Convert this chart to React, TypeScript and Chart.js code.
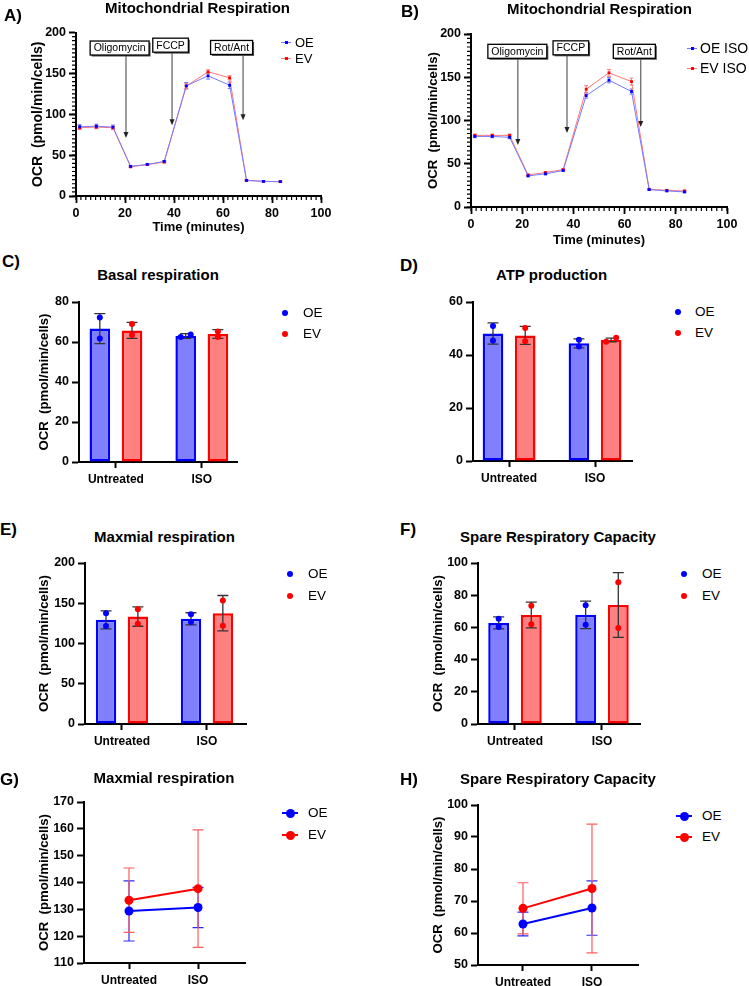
import React, { useEffect, useRef } from 'react';
import { Chart, registerables } from 'chart.js';
Chart.register(...registerables);

const FONT = '"Liberation Sans", Arial, Helvetica, sans-serif';
Chart.defaults.font.family = FONT;
Chart.defaults.color = '#000';

const BLUE = '#0000ff';
const RED = '#ff0000';
const BLUE_FILL = '#8080ff';
const RED_FILL = '#ff8080';
const BLUE_LINE = '#7878ff';
const RED_LINE = '#ff7878';
const BLUE_ERR = '#2a2aff';
const RED_ERR = '#ff5e5e';

// ---------- Panels A / B : Seahorse time course ----------
const TIME_POINTS = [1.5, 8.3, 15.1, 22.3, 29.1, 36.0, 45.0, 53.9, 62.7, 69.6, 76.5, 83.4];
const OE_UNTREATED_OCR = [84.7, 85.3, 84.3, 36.3, 38.6, 42.3, 134.8, 147.0, 135.5, 19.1, 17.9, 17.5];
const OE_UNTREATED_SD = [2.5, 2.5, 2.5, 1.0, 1.0, 1.0, 4.0, 4.0, 4.0, 0.8, 0.8, 0.8];
const EV_UNTREATED_OCR = [83.5, 84.3, 83.5, 35.8, 38.3, 41.5, 134.4, 151.9, 144.6, 19.1, 17.9, 17.5];
const EV_UNTREATED_SD = [2.0, 2.0, 2.0, 1.0, 1.0, 1.0, 3.0, 2.5, 2.5, 0.8, 0.8, 0.8];
const OE_ISO_OCR = [81.6, 81.6, 80.5, 36.0, 38.3, 42.2, 128.8, 146.6, 133.5, 20.1, 18.6, 17.4];
const OE_ISO_SD = [1.5, 1.5, 1.5, 1.0, 1.0, 1.0, 3.0, 3.0, 3.0, 0.8, 0.8, 0.8];
const EV_ISO_OCR = [82.8, 82.8, 82.8, 37.1, 39.8, 43.3, 136.2, 155.1, 145.0, 20.5, 19.3, 18.6];
const EV_ISO_SD = [1.5, 1.5, 1.5, 1.0, 1.0, 1.0, 4.0, 4.0, 4.0, 0.8, 0.8, 0.8];

const INJECTIONS = ['Oligomycin', 'FCCP', 'Rot/Ant'];
const A_BOX_X = [17.8, 38.6, 63.5];
const A_BOX_Y = [181, 184.5, 181.7];
const A_ARROW_X = [20.4, 39.2, 68.2];
const A_ARROW_TIP = [71, 86.6, 92.7];
const B_BOX_X = [18.1, 39.0, 63.8];
const B_BOX_Y = [180, 184, 180];
const B_ARROW_X = [18.3, 37.5, 66.3];
const B_ARROW_TIP = [71.7, 85.5, 92.5];

// ---------- Panels C–H ----------
const CATEGORIES = ['Untreated', 'ISO'];

const BASAL_OE = [66.7, 63.0];
const BASAL_OE_SD = [7.5, 1.2];
const BASAL_OE_REPS = [[72.3, 61.7], [62.5, 63.7]];
const BASAL_EV = [65.8, 64.0];
const BASAL_EV_SD = [4.0, 2.2];
const BASAL_EV_REPS = [[69.0, 63.5], [65.3, 62.5]];

const ATP_OE = [48.1, 44.4];
const ATP_OE_SD = [4.0, 1.7];
const ATP_OE_REPS = [[50.9, 45.5], [45.8, 43.2]];
const ATP_EV = [47.4, 45.7];
const ATP_EV_SD = [3.4, 0.7];
const ATP_EV_REPS = [[50.2, 45.2], [45.0, 46.5]];

const MAX_OE = [129.4, 130.7];
const MAX_OE_SD = [11.2, 7.5];
const MAX_OE_REPS = [[137.5, 121.7], [136.3, 126.7]];
const MAX_EV = [133.4, 137.7];
const MAX_EV_SD = [12.0, 21.9];
const MAX_EV_REPS = [[142.5, 124.6], [153.3, 122.1]];

const SPARE_OE = [62.8, 67.8];
const SPARE_OE_SD = [3.7, 8.5];
const SPARE_OE_REPS = [[65.3, 60.3], [73.8, 61.7]];
const SPARE_EV = [67.7, 73.9];
const SPARE_EV_SD = [8.0, 20.1];
const SPARE_EV_REPS = [[73.4, 61.9], [88.1, 59.6]];

const Y_TITLE = 'OCR  (pmol/min/cells)';

type Geo = { left: number; top: number; w: number; h: number; padL: number; yW: number; padT: number; padR: number; xH: number; yTitleSize: number };

const tickFont = { size: 12.5, weight: 'bold' as const };
const catFont = { size: 12, weight: 'bold' as const };

function yScale(geo: Geo, min: number, max: number, step: number, title: boolean) {
  return {
    type: 'linear',
    position: 'left',
    min,
    max,
    ticks: { stepSize: step, font: tickFont, padding: 3, color: '#000' },
    grid: { display: true, drawOnChartArea: false, drawTicks: true, tickLength: 7, tickWidth: 2, tickColor: '#000', color: '#000' },
    border: { display: true, color: '#000', width: 2 },
    title: title
      ? { display: true, text: Y_TITLE, font: { size: geo.yTitleSize, weight: 'bold' }, padding: { top: 0, bottom: 0 }, color: '#000' }
      : { display: false },
    afterFit: (s: any) => { s.width = geo.yW; },
  };
}

function catXScale(geo: Geo, min: number, max: number) {
  return {
    type: 'linear',
    position: 'bottom',
    min,
    max,
    offset: false,
    afterBuildTicks: (s: any) => { s.ticks = CATEGORIES.map((_, i) => ({ value: i })); },
    ticks: { callback: (v: any) => CATEGORIES[v] ?? '', font: catFont, padding: 4, maxRotation: 0, autoSkip: false, color: '#000' },
    grid: { display: true, offset: false, drawOnChartArea: false, drawTicks: true, tickLength: 6, tickWidth: 2, tickColor: '#000', color: '#000' },
    border: { display: true, color: '#000', width: 2 },
    afterFit: (s: any) => { s.height = geo.xH; },
  };
}

function timeXScale(geo: Geo) {
  return {
    type: 'linear',
    position: 'bottom',
    min: 0,
    max: 100,
    ticks: { stepSize: 20, autoSkip: false, maxRotation: 0, padding: 3, font: tickFont, color: '#000' },
    grid: { display: true, drawOnChartArea: false, drawTicks: true, tickLength: 7, tickWidth: 1.8, tickColor: '#000', color: '#000' },
    border: { display: true, color: '#000', width: 2 },
    title: { display: true, text: 'Time (minutes)', font: { size: 13, weight: 'bold' }, padding: { top: 0, bottom: 0 }, color: '#000' },
    afterFit: (s: any) => { s.height = geo.xH; },
  };
}

function baseOptions(geo: Geo) {
  return {
    responsive: false,
    animation: false,
    events: [],
    devicePixelRatio: 1,
    layout: { padding: { left: geo.padL, top: geo.padT, right: geo.padR, bottom: 0 } },
    plugins: { legend: { display: false }, title: { display: false }, tooltip: { enabled: false } },
  };
}

// minor tick marks (Prism style) along both axes
function minorTicksPlugin(xStep: number, yStep: number, len: number) {
  return {
    id: 'minorTicks',
    afterDraw(chart: any) {
      const { ctx, chartArea } = chart;
      const x = chart.scales.x;
      const y = chart.scales.y;
      ctx.save();
      ctx.strokeStyle = '#000';
      ctx.lineWidth = 1.2;
      ctx.beginPath();
      const nx = Math.round((x.max - x.min) / xStep);
      for (let k = 0; k <= nx; k++) {
        const px = x.getPixelForValue(x.min + k * xStep);
        ctx.moveTo(px, chartArea.bottom);
        ctx.lineTo(px, chartArea.bottom + len);
      }
      const ny = Math.round((y.max - y.min) / yStep);
      for (let k = 0; k <= ny; k++) {
        const py = y.getPixelForValue(y.min + k * yStep);
        ctx.moveTo(chartArea.left - len, py);
        ctx.lineTo(chartArea.left, py);
      }
      ctx.stroke();
      ctx.restore();
    },
  };
}

// error bars for line datasets (drawn under points)
function lineErrorPlugin(sds: number[][], colors: string[], cap: number, width: number) {
  return {
    id: 'lineErrors',
    beforeDatasetsDraw(chart: any) {
      const ctx = chart.ctx;
      const y = chart.scales.y;
      sds.forEach((sd, di) => {
        const meta = chart.getDatasetMeta(di);
        const vals = chart.data.datasets[di].data;
        meta.data.forEach((pt: any, i: number) => {
          const v = vals[i].y;
          const top = y.getPixelForValue(v + sd[i]);
          const bot = y.getPixelForValue(v - sd[i]);
          ctx.save();
          ctx.strokeStyle = colors[di];
          ctx.lineWidth = width;
          ctx.beginPath();
          ctx.moveTo(pt.x, top); ctx.lineTo(pt.x, bot);
          ctx.moveTo(pt.x - cap, top); ctx.lineTo(pt.x + cap, top);
          ctx.moveTo(pt.x - cap, bot); ctx.lineTo(pt.x + cap, bot);
          ctx.stroke();
          ctx.restore();
        });
      });
    },
  };
}

function injectionPlugin(boxX: number[], boxY: number[], arrowX: number[], arrowTip: number[]) {
  return {
    id: 'injections',
    afterDatasetsDraw(chart: any) {
      const { ctx } = chart;
      const x = chart.scales.x;
      const y = chart.scales.y;
      ctx.save();
      ctx.font = `10.5px ${FONT}`;
      INJECTIONS.forEach((label, i) => {
        const cx = x.getPixelForValue(boxX[i]);
        const cy = y.getPixelForValue(boxY[i]);
        const tw = ctx.measureText(label).width;
        const bw = tw + 7;
        const bh = 14;
        const ax = x.getPixelForValue(arrowX[i]);
        const ty = y.getPixelForValue(arrowTip[i]);
        ctx.strokeStyle = '#6a6a6a';
        ctx.lineWidth = 1.3;
        ctx.beginPath();
        ctx.moveTo(ax, cy + bh / 2);
        ctx.lineTo(ax, ty - 4);
        ctx.stroke();
        ctx.fillStyle = '#222';
        ctx.beginPath();
        ctx.moveTo(ax - 2.5, ty - 6);
        ctx.lineTo(ax + 2.5, ty - 6);
        ctx.lineTo(ax, ty);
        ctx.closePath();
        ctx.fill();
        ctx.fillStyle = '#555';
        ctx.fillRect(cx - bw / 2 + 1.5, cy - bh / 2 + 1.5, bw, bh);
        ctx.fillStyle = '#fff';
        ctx.fillRect(cx - bw / 2, cy - bh / 2, bw, bh);
        ctx.strokeStyle = '#000';
        ctx.lineWidth = 1.3;
        ctx.strokeRect(cx - bw / 2, cy - bh / 2, bw, bh);
        ctx.fillStyle = '#000';
        ctx.textAlign = 'center';
        ctx.textBaseline = 'middle';
        ctx.fillText(label, cx, cy + 0.5);
      });
      ctx.restore();
    },
  };
}

function barExtrasPlugin(means: number[][], sds: number[][], reps: number[][][], colors: string[]) {
  return {
    id: 'barExtras',
    afterDatasetsDraw(chart: any) {
      const ctx = chart.ctx;
      const y = chart.scales.y;
      means.forEach((m, di) => {
        const meta = chart.getDatasetMeta(di);
        meta.data.forEach((bar: any, i: number) => {
          const cx = bar.x;
          const top = y.getPixelForValue(m[i] + sds[di][i]);
          const bot = y.getPixelForValue(m[i] - sds[di][i]);
          ctx.save();
          ctx.strokeStyle = '#333';
          ctx.lineWidth = 1.3;
          ctx.beginPath();
          ctx.moveTo(cx, top); ctx.lineTo(cx, bot);
          ctx.moveTo(cx - 5.5, top); ctx.lineTo(cx + 5.5, top);
          ctx.moveTo(cx - 5.5, bot); ctx.lineTo(cx + 5.5, bot);
          ctx.stroke();
          const r = [...reps[di][i]].sort((a, b) => a - b);
          const py = r.map((v) => y.getPixelForValue(v));
          const jit = Math.abs(py[0] - py[1]) < 5.5 ? 5 : 0;
          ctx.fillStyle = colors[di];
          py.forEach((p, k) => {
            ctx.beginPath();
            ctx.arc(cx + (k === 0 ? -jit : jit), p, 3, 0, Math.PI * 2);
            ctx.fill();
          });
          ctx.restore();
        });
      });
    },
  };
}

function timeCourseConfig(geo: Geo, oe: number[], oeSd: number[], ev: number[], evSd: number[], labels: string[],
  boxX: number[], boxY: number[], arrowX: number[], arrowTip: number[]) {
  const mk = (vals: number[], line: string, pt: string, label: string) => ({
    label,
    data: TIME_POINTS.map((t, i) => ({ x: t, y: vals[i] })),
    borderColor: line,
    borderWidth: 1,
    pointStyle: 'rect',
    pointRadius: 2,
    pointBackgroundColor: pt,
    pointBorderColor: pt,
    pointBorderWidth: 0,
    tension: 0,
    fill: false,
  });
  return {
    type: 'line',
    data: { datasets: [mk(oe, BLUE_LINE, BLUE, labels[0]), mk(ev, RED_LINE, RED, labels[1])] },
    options: {
      ...baseOptions(geo),
      scales: { x: timeXScale(geo), y: yScale(geo, 0, 200, 50, true) },
    },
    plugins: [
      minorTicksPlugin(2, 5, 4),
      lineErrorPlugin([oeSd, evSd], [BLUE_LINE, RED_LINE], 2, 1),
      injectionPlugin(boxX, boxY, arrowX, arrowTip),
    ],
  };
}

function barConfig(geo: Geo, xmin: number, xmax: number, ymax: number, step: number, yTitle: boolean,
  oe: number[], oeSd: number[], oeReps: number[][], ev: number[], evSd: number[], evReps: number[][]) {
  const mk = (vals: number[], fill: string, border: string, label: string) => ({
    label,
    data: vals.map((v, i) => ({ x: i, y: v })),
    backgroundColor: fill,
    borderColor: border,
    borderWidth: 2.5,
    borderSkipped: false,
    categoryPercentage: 0.75,
    barPercentage: 0.64,
  });
  return {
    type: 'bar',
    data: { datasets: [mk(oe, BLUE_FILL, BLUE, 'OE'), mk(ev, RED_FILL, RED, 'EV')] },
    options: {
      ...baseOptions(geo),
      scales: { x: catXScale(geo, xmin, xmax), y: yScale(geo, 0, ymax, step, yTitle) },
    },
    plugins: [barExtrasPlugin([oe, ev], [oeSd, evSd], [oeReps, evReps], [BLUE, RED])],
  };
}

function pointLineConfig(geo: Geo, xmin: number, xmax: number, ymin: number, ymax: number,
  oe: number[], oeSd: number[], ev: number[], evSd: number[]) {
  const mk = (vals: number[], color: string, label: string) => ({
    label,
    data: vals.map((v, i) => ({ x: i, y: v })),
    borderColor: color,
    borderWidth: 2,
    pointRadius: 4.5,
    pointBackgroundColor: color,
    pointBorderColor: color,
    pointBorderWidth: 0,
    tension: 0,
    fill: false,
  });
  return {
    type: 'line',
    data: { datasets: [mk(oe, BLUE, 'OE'), mk(ev, RED, 'EV')] },
    options: {
      ...baseOptions(geo),
      scales: { x: catXScale(geo, xmin, xmax), y: yScale(geo, ymin, ymax, 10, true) },
    },
    plugins: [lineErrorPlugin([oeSd, evSd], [BLUE_ERR, RED_ERR], 5.5, 1.2)],
  };
}

function ChartCanvas({ geo, make }: { geo: Geo; make: () => any }) {
  const ref = useRef<HTMLCanvasElement>(null);
  useEffect(() => {
    const chart = new Chart(ref.current as HTMLCanvasElement, make() as any);
    return () => chart.destroy();
  }, []);
  return (
    <canvas
      ref={ref}
      width={geo.w}
      height={geo.h}
      style={{ position: 'absolute', left: geo.left, top: geo.top, width: geo.w, height: geo.h }}
    />
  );
}

function Text({ x, y, text, size, bold, center }: { x: number; y: number; text: string; size: number; bold?: boolean; center?: boolean }) {
  const lh = Math.round(size * 1.3);
  return (
    <div
      style={{
        position: 'absolute',
        left: center ? x - 200 : x,
        width: center ? 400 : undefined,
        textAlign: center ? 'center' : 'left',
        top: y - lh / 2,
        height: lh,
        lineHeight: `${lh}px`,
        fontSize: size,
        fontWeight: bold ? 'bold' : 'normal',
        fontFamily: FONT,
        whiteSpace: 'nowrap',
        color: '#000',
      }}
    >
      {text}
    </div>
  );
}

type LegendKind = 'rect' | 'dot' | 'linedot';
function LegendItem({ x, tx, y, color, line, label, kind, size }: { x: number; tx: number; y: number; color: string; line: string; label: string; kind: LegendKind; size: number }) {
  const parts: React.ReactNode[] = [];
  if (kind === 'rect') {
    parts.push(<div key="l" style={{ position: 'absolute', left: x - 5, top: y - 0.5, width: 10, height: 1, background: line }} />);
    parts.push(<div key="p" style={{ position: 'absolute', left: x - 1.5, top: y - 1.5, width: 3, height: 3, background: color }} />);
  } else if (kind === 'dot') {
    parts.push(<div key="p" style={{ position: 'absolute', left: x - 3, top: y - 3, width: 6, height: 6, borderRadius: '50%', background: color }} />);
  } else {
    parts.push(<div key="l" style={{ position: 'absolute', left: x - 8, top: y - 1, width: 16, height: 2, background: color }} />);
    parts.push(<div key="p" style={{ position: 'absolute', left: x - 4.5, top: y - 4.5, width: 9, height: 9, borderRadius: '50%', background: color }} />);
  }
  return (
    <>
      {parts}
      <Text x={tx} y={y} text={label} size={size} />
    </>
  );
}

const GEO_A: Geo = { left: 0, top: 22, w: 335, h: 213, padL: 30, yW: 46, padT: 10, padR: 14, xH: 39, yTitleSize: 14 };
const GEO_B: Geo = { left: 375, top: 22, w: 366, h: 226, padL: 50, yW: 46, padT: 12, padR: 14, xH: 41, yTitleSize: 13.2 };
const GEO_C: Geo = { left: 0, top: 290, w: 245, h: 200, padL: 36, yW: 43, padT: 12, padR: 8, xH: 28, yTitleSize: 13.2 };
const GEO_D: Geo = { left: 375, top: 290, w: 265, h: 200, padL: 50, yW: 48, padT: 12, padR: 8, xH: 29, yTitleSize: 13.2 };
const GEO_E: Geo = { left: 0, top: 551, w: 254, h: 200, padL: 36, yW: 49, padT: 12, padR: 8, xH: 27, yTitleSize: 13.2 };
const GEO_F: Geo = { left: 375, top: 551, w: 273, h: 200, padL: 55, yW: 48, padT: 12, padR: 8, xH: 27, yTitleSize: 13.2 };
const GEO_G: Geo = { left: 0, top: 790, w: 253, h: 196, padL: 36, yW: 48, padT: 12, padR: 8, xH: 23, yTitleSize: 13.2 };
const GEO_H: Geo = { left: 375, top: 793, w: 271, h: 193, padL: 55, yW: 48, padT: 12, padR: 8, xH: 21, yTitleSize: 13.2 };

export default function App() {
  return (
    <div style={{ position: 'absolute', left: 0, top: 0, width: 749, height: 986, background: '#fff', overflow: 'hidden' }}>
      <ChartCanvas geo={GEO_A} make={() => timeCourseConfig(GEO_A, OE_UNTREATED_OCR, OE_UNTREATED_SD, EV_UNTREATED_OCR, EV_UNTREATED_SD, ['OE', 'EV'], A_BOX_X, A_BOX_Y, A_ARROW_X, A_ARROW_TIP)} />
      <ChartCanvas geo={GEO_B} make={() => timeCourseConfig(GEO_B, OE_ISO_OCR, OE_ISO_SD, EV_ISO_OCR, EV_ISO_SD, ['OE ISO', 'EV ISO'], B_BOX_X, B_BOX_Y, B_ARROW_X, B_ARROW_TIP)} />
      <ChartCanvas geo={GEO_C} make={() => barConfig(GEO_C, -0.43, 1.41, 80, 20, true, BASAL_OE, BASAL_OE_SD, BASAL_OE_REPS, BASAL_EV, BASAL_EV_SD, BASAL_EV_REPS)} />
      <ChartCanvas geo={GEO_D} make={() => barConfig(GEO_D, -0.42, 1.43, 60, 20, false, ATP_OE, ATP_OE_SD, ATP_OE_REPS, ATP_EV, ATP_EV_SD, ATP_EV_REPS)} />
      <ChartCanvas geo={GEO_E} make={() => barConfig(GEO_E, -0.435, 1.46, 200, 50, true, MAX_OE, MAX_OE_SD, MAX_OE_REPS, MAX_EV, MAX_EV_SD, MAX_EV_REPS)} />
      <ChartCanvas geo={GEO_F} make={() => barConfig(GEO_F, -0.425, 1.437, 100, 20, true, SPARE_OE, SPARE_OE_SD, SPARE_OE_REPS, SPARE_EV, SPARE_EV_SD, SPARE_EV_REPS)} />
      <ChartCanvas geo={GEO_G} make={() => pointLineConfig(GEO_G, -0.652, 1.68, 110, 170, MAX_OE, MAX_OE_SD, MAX_EV, MAX_EV_SD)} />
      <ChartCanvas geo={GEO_H} make={() => pointLineConfig(GEO_H, -0.652, 1.667, 50, 100, SPARE_OE, SPARE_OE_SD, SPARE_EV, SPARE_EV_SD)} />

      <Text x={4} y={16} text="A)" size={17} bold />
      <Text x={401} y={11.5} text="B)" size={17} bold />
      <Text x={2} y={262} text="C)" size={17} bold />
      <Text x={400} y={266} text="D)" size={17} bold />
      <Text x={0} y={530} text="E)" size={17} bold />
      <Text x={400} y={530} text="F)" size={17} bold />
      <Text x={0} y={780} text="G)" size={17} bold />
      <Text x={400} y={780} text="H)" size={17} bold />

      <Text x={197.5} y={8} text="Mitochondrial Respiration" size={15} bold center />
      <Text x={599.5} y={8.5} text="Mitochondrial Respiration" size={15} bold center />
      <Text x={158} y={275} text="Basal respiration" size={15} bold center />
      <Text x={551.5} y={275} text="ATP production" size={15} bold center />
      <Text x={164.5} y={537} text="Maxmial respiration" size={15} bold center />
      <Text x={558} y={537} text="Spare Respiratory Capacity" size={15} bold center />
      <Text x={164} y={777.5} text="Maxmial respiration" size={15} bold center />
      <Text x={558} y={779} text="Spare Respiratory Capacity" size={15} bold center />

      <LegendItem x={286} tx={295} y={42} color={BLUE} line={BLUE_LINE} label="OE" kind="rect" size={13} />
      <LegendItem x={286} tx={295} y={58} color={RED} line={RED_LINE} label="EV" kind="rect" size={13} />
      <LegendItem x={692} tx={700} y={48} color={BLUE} line={BLUE_LINE} label="OE ISO" kind="rect" size={14} />
      <LegendItem x={692} tx={700} y={68} color={RED} line={RED_LINE} label="EV ISO" kind="rect" size={14} />
      <LegendItem x={285} tx={303} y={313} color={BLUE} line={BLUE} label="OE" kind="dot" size={13.5} />
      <LegendItem x={285} tx={303} y={334} color={RED} line={RED} label="EV" kind="dot" size={13.5} />
      <LegendItem x={678} tx={695} y={312} color={BLUE} line={BLUE} label="OE" kind="dot" size={13.5} />
      <LegendItem x={678} tx={695} y={333} color={RED} line={RED} label="EV" kind="dot" size={13.5} />
      <LegendItem x={290} tx={308} y={574} color={BLUE} line={BLUE} label="OE" kind="dot" size={13.5} />
      <LegendItem x={290} tx={308} y={596} color={RED} line={RED} label="EV" kind="dot" size={13.5} />
      <LegendItem x={684} tx={702} y={574} color={BLUE} line={BLUE} label="OE" kind="dot" size={13.5} />
      <LegendItem x={684} tx={702} y={596} color={RED} line={RED} label="EV" kind="dot" size={13.5} />
      <LegendItem x={290} tx={308} y={813} color={BLUE} line={BLUE} label="OE" kind="linedot" size={13.5} />
      <LegendItem x={290} tx={308} y={835} color={RED} line={RED} label="EV" kind="linedot" size={13.5} />
      <LegendItem x={684} tx={702} y={816} color={BLUE} line={BLUE} label="OE" kind="linedot" size={13.5} />
      <LegendItem x={684} tx={702} y={837} color={RED} line={RED} label="EV" kind="linedot" size={13.5} />
    </div>
  );
}
